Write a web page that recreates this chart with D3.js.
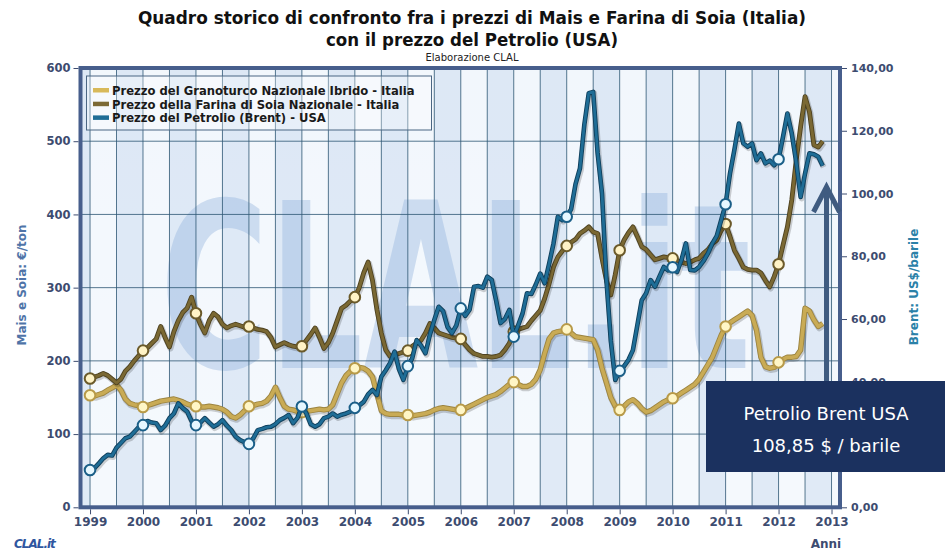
<!DOCTYPE html>
<html>
<head>
<meta charset="utf-8">
<script src="https://cdn.jsdelivr.net/npm/d3@7"></script>
<style>
  body { margin: 0; background: #fff; }
  svg text { font-family: "DejaVu Sans", Verdana, sans-serif; }
</style>
</head>
<body>
<div id="chart"></div>
<script>
// Dati mensili (gen 1999 - nov 2012)
const startYear = 1999;
const yearTicks = [1999, 2000, 2001, 2002, 2003, 2004, 2005, 2006, 2007, 2008, 2009, 2010, 2011, 2012, 2013];
const leftTicks = [0, 100, 200, 300, 400, 500, 600];
const rightTicks = [0, 20, 40, 60, 80, 100, 120, 140];

// Prezzo del Granoturco Nazionale Ibrido - Italia (€/ton)
const mais = [
  153, 152, 154, 156, 160, 163, 167, 160, 148, 142, 140, 139,
  137, 139, 141, 143, 145, 146, 147, 148, 146, 144, 141, 139,
  138, 137, 137, 138, 137, 136, 134, 130, 124, 122, 126, 132,
  138, 139, 141, 142, 145, 152, 164, 150, 138, 134, 133, 131,
  130, 131, 132, 133, 134, 133, 134, 140, 155, 170, 180, 186,
  190, 191, 190, 186, 178, 155, 132, 128, 127, 127, 127, 126,
  126, 125, 126, 127, 128, 130, 133, 135, 136, 135, 134, 133,
  133, 135, 138, 141, 144, 147, 150, 152, 154, 158, 163, 168,
  171, 168, 165, 165, 168, 175, 188, 210, 230, 238, 240, 241,
  243, 238, 233, 232, 231, 230, 229, 215, 190, 170, 150, 138,
  133, 138, 144, 147, 142, 135, 130, 132, 136, 140, 144, 147,
  149, 152, 156, 160, 164, 168, 175, 185, 195, 205, 220, 235,
  247, 252, 256, 260, 264, 268, 262, 242, 205, 192, 190, 191,
  198, 202, 205, 205, 206, 215, 272, 268, 256, 247, 251
];

// Prezzo della Farina di Soia Nazionale - Italia (€/ton)
const soia = [
  176, 178, 180, 183, 180, 175, 170, 175, 186, 192, 200, 207,
  214, 218, 224, 230, 247, 232, 219, 240, 255, 266, 272, 287,
  265, 250, 238, 255, 265, 260, 250, 245, 248, 250, 248, 246,
  247, 245, 243, 242, 240, 232, 219, 222, 225, 222, 220, 219,
  220, 228, 236, 245, 232, 217, 225, 238, 255, 272, 276, 282,
  287, 300, 320, 335, 310, 270, 238, 215, 206, 208, 210, 212,
  214, 220, 224, 228, 238, 251, 245, 238, 236, 234, 232, 231,
  230, 222, 215, 210, 208, 206, 206, 205, 206, 208, 215, 224,
  240, 243, 245, 247, 255, 262, 269, 285, 305, 328, 342, 350,
  357, 362, 366, 374, 378, 383, 376, 374, 340, 310, 290, 318,
  351, 365, 375, 383, 370, 356, 352, 345, 338, 340, 342, 341,
  340, 337, 335, 333, 335, 338, 340, 347, 352, 360, 365, 378,
  387, 370, 351, 340, 328, 325, 324, 324, 320, 310, 301, 315,
  332, 358, 383, 420, 474, 520, 561, 540, 495, 492, 500
];

// Prezzo del Petrolio (Brent) - USA (US$/barile)
const brent = [
  11.9, 12.5, 14, 15.6, 16.7, 16.5, 19, 20.5, 22, 22.5, 24, 25.5,
  26.2, 27.5, 27, 26.8, 24.6, 26, 28.4, 29.9, 33.1, 31.6, 30.5, 27.5,
  26.2, 27, 28.4, 27, 25.7, 26.5, 27.8, 26, 24.6, 22.5, 21.4, 20.8,
  20.2, 22, 24.6, 25, 25.5, 25.7, 26.5, 27.8, 28.5, 29.4, 26.8, 28.5,
  32.1, 30, 26.5, 25.7, 26.5, 28.4, 28.9, 29.9, 28.9, 29.5, 29.9, 30.5,
  31.7, 32.5, 33.6, 36, 37.4, 35.8, 41.6, 43.7, 46, 49.6, 44, 40.6,
  45, 47.5, 53.3, 51.5, 49.1, 55, 59.7, 63.9, 62.5, 57.5, 55.5, 58,
  63.4, 61, 63, 70.3, 70.5, 70, 73.5, 72.5, 66, 58.7, 60, 62.9,
  54.4, 58, 61.8, 68.2, 68, 71, 74.5, 71.4, 77.5, 84, 92.6, 91.5,
  92.6, 95, 103, 108, 122, 132, 132.4, 113, 100, 72.4, 53, 40.6,
  43.5, 45, 47, 50.1, 58, 66, 68.2, 72.4, 70.3, 73.5, 76.6, 75.5,
  76.5, 75, 78.8, 84.1, 75.6, 75.5, 76.6, 78.5, 80.9, 84.1, 86.5, 91.5,
  96.6, 106.4, 114, 122.3, 116, 114.9, 116, 110.6, 112.8, 109.6, 110.5, 109,
  110.9, 118, 125.5, 119.1, 110, 98.9, 106.4, 112.8, 112.5, 111.7, 108.85
];

const legendLabels = [
  "Prezzo del Granoturco Nazionale Ibrido - Italia",
  "Prezzo della Farina di Soia Nazionale - Italia",
  "Prezzo del Petrolio (Brent) - USA"
];

const W = 945, H = 550;
const plot = { left: 80.5, right: 840, top: 68, bottom: 507.3 };
const box = { x: 706, y: 381, w: 239, h: 91 };

const svg = d3.select("#chart").append("svg")
  .attr("width", W)
  .attr("height", H);

const x = d3.scaleLinear()
  .domain([1999 - 0.18, 2013 + 0.16])
  .range([plot.left, plot.right]);
const yL = d3.scaleLinear().domain([0, 600]).range([plot.bottom, plot.top]);
const yR = d3.scaleLinear().domain([0, 140]).range([plot.bottom, plot.top]);

const dateOf = i => startYear + i / 12;

// sfondo dell'area del grafico
const defs = svg.append("defs");
const bg = defs.append("linearGradient").attr("id", "bgGrad").attr("x1", 0).attr("x2", 0).attr("y1", 0).attr("y2", 1);
bg.append("stop").attr("offset", "0%").attr("stop-color", "#e6eef8");
bg.append("stop").attr("offset", "100%").attr("stop-color", "#f3f7fc");

svg.append("rect")
  .attr("x", plot.left).attr("y", plot.top)
  .attr("width", plot.right - plot.left).attr("height", plot.bottom - plot.top)
  .attr("fill", "url(#bgGrad)");

// bande verticali (semestri)
const halfYears = d3.range(1999 * 2 - 1, 2013 * 2 + 1).map(d => d / 2);
svg.append("g").selectAll("rect")
  .data(halfYears)
  .join("rect")
  .attr("x", d => Math.max(plot.left, x(d)))
  .attr("y", plot.top)
  .attr("width", d => Math.min(plot.right, x(d + 0.5)) - Math.max(plot.left, x(d)))
  .attr("height", plot.bottom - plot.top)
  .attr("fill", (d, i) => i % 2 ? "#f5f9fd" : "#d9e5f4")
  .attr("opacity", 0.75);

// filigrana CLAL.it (schiacciata in orizzontale)
svg.append("text")
  .attr("transform", "translate(160,368) scale(0.645,1)")
  .attr("font-size", 230)
  .attr("font-weight", "bold")
  .attr("fill", "#8fb1dc")
  .attr("opacity", 0.38)
  .text("CLAL.it");

// griglia
svg.append("g").selectAll("line")
  .data(halfYears.filter(d => d >= 1999))
  .join("line")
  .attr("x1", d => x(d)).attr("x2", d => x(d))
  .attr("y1", plot.top).attr("y2", plot.bottom)
  .attr("stroke", "#2f5875")
  .attr("stroke-width", 1)
  .attr("opacity", 0.8);

svg.append("g").selectAll("line")
  .data(leftTicks.filter(d => d > 0 && d < 600))
  .join("line")
  .attr("x1", plot.left).attr("x2", plot.right)
  .attr("y1", d => yL(d)).attr("y2", d => yL(d))
  .attr("stroke", "#2f5875")
  .attr("stroke-width", 1)
  .attr("opacity", 0.8);

// legenda
const legend = svg.append("g");
legend.append("rect")
  .attr("x", 86.5).attr("y", 76)
  .attr("width", 345).attr("height", 54)
  .attr("fill", "#ffffff").attr("fill-opacity", 0.3)
  .attr("stroke", "#4b6683").attr("stroke-width", 1);

const legendColors = ["#d8b95a", "#7c6a35", "#1f6d96"];
legendLabels.forEach((label, i) => {
  legend.append("rect")
    .attr("x", 93).attr("y", 88 + i * 13.7)
    .attr("width", 16).attr("height", 4.5)
    .attr("fill", legendColors[i]);
  legend.append("text")
    .attr("x", 112).attr("y", 94.8 + i * 13.7)
    .attr("font-size", 11.6)
    .attr("font-weight", "bold")
    .attr("fill", "#1a1a1a")
    .text(label);
});

// serie
const series = [
  { values: mais, scale: yL, color: "#c9ab55", edge: "#9c8440", width: 4.2, mfill: "#fff6c6", mstroke: "#b89a48" },
  { values: soia, scale: yL, color: "#7a6833", edge: "#4e4220", width: 3.6, mfill: "#fff3c6", mstroke: "#6b5a2a" },
  { values: brent, scale: yR, color: "#1f6d96", edge: "#0f3f5c", width: 3.4, mfill: "#e6f7ff", mstroke: "#1b5f88" }
];

series.forEach(s => {
  const line = d3.line()
    .x((d, i) => x(dateOf(i)))
    .y(d => s.scale(d));

  const g = svg.append("g");
  g.append("path")
    .attr("d", line(s.values))
    .attr("fill", "none")
    .attr("stroke", "#000")
    .attr("stroke-opacity", 0.18)
    .attr("stroke-width", s.width + 2.5)
    .attr("transform", "translate(1,1.5)")
    .attr("stroke-linejoin", "round");
  g.append("path")
    .attr("d", line(s.values))
    .attr("fill", "none")
    .attr("stroke", s.edge)
    .attr("stroke-width", s.width + 1.2)
    .attr("stroke-linejoin", "round");
  g.append("path")
    .attr("d", line(s.values))
    .attr("fill", "none")
    .attr("stroke", s.color)
    .attr("stroke-width", s.width - 0.6)
    .attr("stroke-linejoin", "round");

  g.selectAll("circle")
    .data(s.values.map((v, i) => ({ v, i })).filter(d => d.i % 12 === 0))
    .join("circle")
    .attr("cx", d => x(dateOf(d.i)))
    .attr("cy", d => s.scale(d.v))
    .attr("r", 5.3)
    .attr("fill", s.mfill)
    .attr("stroke", s.mstroke)
    .attr("stroke-width", 2);
});

// cornice
svg.append("rect")
  .attr("x", plot.left).attr("y", plot.top)
  .attr("width", plot.right - plot.left).attr("height", plot.bottom - plot.top)
  .attr("fill", "none")
  .attr("stroke", "#475e8c")
  .attr("stroke-width", 4);

// assi
const itLocale = d3.formatLocale({ decimal: ",", thousands: ".", grouping: [3], currency: ["", "€"] });
const axisColor = "#3d4c70";

const axL = svg.append("g")
  .attr("transform", `translate(${plot.left - 2},0)`)
  .call(d3.axisLeft(yL).tickValues(leftTicks).tickSize(5).tickPadding(3));
const axR = svg.append("g")
  .attr("transform", `translate(${plot.right + 2},0)`)
  .call(d3.axisRight(yR).tickValues(rightTicks).tickSize(5).tickPadding(4).tickFormat(itLocale.format(".2f")));
const axB = svg.append("g")
  .attr("transform", `translate(0,${plot.bottom + 2})`)
  .call(d3.axisBottom(x).tickValues(yearTicks).tickSize(5).tickPadding(3).tickFormat(d3.format("d")));

[axL, axR, axB].forEach(a => {
  a.select(".domain").remove();
  a.selectAll("line").attr("stroke", axisColor);
  a.selectAll("text")
    .attr("fill", axisColor)
    .attr("font-weight", "bold")
    .style("font-family", "'DejaVu Sans', Verdana, sans-serif");
});
axL.selectAll("text").attr("font-size", 11.5);
axR.selectAll("text").attr("font-size", 11);
axB.selectAll("text").attr("font-size", 12);
// l'etichetta completamente coperta dal riquadro non si vede
axR.selectAll(".tick").filter(d => yR(d) - 6 > box.y && yR(d) + 6 < box.y + box.h).select("text").remove();

// titoli degli assi
svg.append("text")
  .attr("transform", "translate(26,285) rotate(-90)")
  .attr("text-anchor", "middle")
  .attr("font-size", 12)
  .attr("font-weight", "bold")
  .attr("fill", "#4f74a8")
  .text("Mais e Soia: €/ton");

svg.append("text")
  .attr("transform", "translate(918,287) rotate(-90)")
  .attr("text-anchor", "middle")
  .attr("font-size", 12)
  .attr("font-weight", "bold")
  .attr("fill", "#2b81a8")
  .text("Brent: US$/barile");

svg.append("text")
  .attr("x", 826).attr("y", 548)
  .attr("text-anchor", "middle")
  .attr("font-size", 12)
  .attr("font-weight", "bold")
  .attr("fill", axisColor)
  .text("Anni");

svg.append("text")
  .attr("x", 14).attr("y", 548)
  .attr("font-size", 12)
  .attr("font-weight", "bold")
  .attr("font-style", "italic")
  .attr("letter-spacing", -1)
  .attr("fill", "#2f56a0")
  .text("CLAL.it");

// titolo
svg.append("text")
  .attr("x", 472).attr("y", 24)
  .attr("text-anchor", "middle")
  .attr("font-size", 17.5)
  .attr("font-weight", "bold")
  .attr("fill", "#111")
  .attr("textLength", 668)
  .attr("lengthAdjust", "spacingAndGlyphs")
  .text("Quadro storico di confronto fra i prezzi di Mais e Farina di Soia (Italia)");
svg.append("text")
  .attr("x", 472).attr("y", 46)
  .attr("text-anchor", "middle")
  .attr("font-size", 17.5)
  .attr("font-weight", "bold")
  .attr("fill", "#111")
  .attr("textLength", 292)
  .attr("lengthAdjust", "spacingAndGlyphs")
  .text("con il prezzo del Petrolio (USA)");
svg.append("text")
  .attr("x", 472).attr("y", 61)
  .attr("text-anchor", "middle")
  .attr("font-size", 10)
  .attr("fill", "#222")
  .text("Elaborazione CLAL");

// freccia e riquadro del prezzo
const lastBrent = brent[brent.length - 1];
const arrowX = 826.5;
svg.append("line")
  .attr("x1", arrowX).attr("x2", arrowX)
  .attr("y1", 190).attr("y2", box.y + 1)
  .attr("stroke", "#3f5b80")
  .attr("stroke-width", 5);
svg.append("path")
  .attr("d", `M${arrowX - 13},212 L${arrowX},187 L${arrowX + 13},212`)
  .attr("fill", "none")
  .attr("stroke", "#3f5b80")
  .attr("stroke-width", 5)
  .attr("stroke-linejoin", "miter");

svg.append("rect")
  .attr("x", box.x).attr("y", box.y)
  .attr("width", box.w).attr("height", box.h)
  .attr("fill", "#1b315f");
svg.append("text")
  .attr("x", 826).attr("y", 420)
  .attr("text-anchor", "middle")
  .attr("font-size", 18)
  .attr("fill", "#fff")
  .text("Petrolio Brent USA");
svg.append("text")
  .attr("x", 826).attr("y", 452)
  .attr("text-anchor", "middle")
  .attr("font-size", 18)
  .attr("fill", "#fff")
  .text(itLocale.format(".2f")(lastBrent) + " $ / barile");
</script>
</body>
</html>
